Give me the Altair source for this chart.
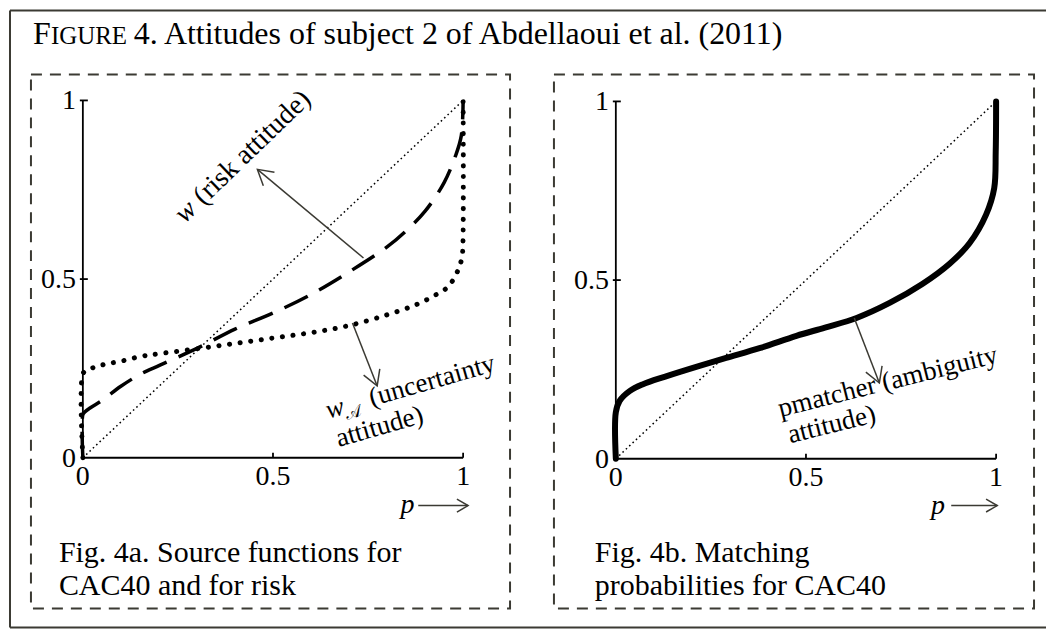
import math
import altair as alt
import pandas as pd

FONT = "Liberation Serif, DejaVu Serif, DejaVu Sans"
INK = "#000000"
GREY = "#3b3a33"
HEAD = "M -1 -0.58 L 0 0 L -1 0.58"

# ---------------- data ----------------
DIAG = [0, 1]
TICKS = [0, 0.5, 1]
TICK_LABELS = ["0", "0.5", "1"]

# Fig. 4a dashed: w (risk attitude)
RISK_P = [0, 0, 0.005, 0.02, 0.05, 0.10, 0.15, 0.20, 0.30, 0.40, 0.50, 0.60,
          0.70, 0.80, 0.85, 0.90, 0.95, 0.98, 0.995, 1.0]
RISK_W = [0, 0.12, 0.128, 0.14, 0.16, 0.20, 0.233, 0.258, 0.306, 0.36, 0.405,
          0.457, 0.52, 0.59, 0.635, 0.69, 0.77, 0.845, 0.90, 1.0]

# Fig. 4a dotted: w_A (uncertainty attitude)
UNC_P = [0, 0, 0.01, 0.03, 0.06, 0.10, 0.15, 0.20, 0.30, 0.40, 0.50, 0.60,
         0.70, 0.80, 0.88, 0.93, 0.96, 0.98, 0.99, 0.997, 0.9995, 1.0]
UNC_W = [0, 0.235, 0.245, 0.253, 0.262, 0.27, 0.283, 0.291, 0.305, 0.32,
         0.335, 0.35, 0.37, 0.40, 0.43, 0.457, 0.478, 0.51, 0.535, 0.56, 0.60, 1.0]

# Fig. 4b solid: pmatcher (ambiguity attitude)
MATCH_P = [0, 0, 0.01, 0.037, 0.07, 0.13, 0.22, 0.29, 0.38, 0.475, 0.55, 0.633,
           0.72, 0.806, 0.877, 0.93, 0.974, 0.995, 0.999, 1.0]
MATCH_W = [0, 0.13, 0.162, 0.19, 0.208, 0.23, 0.26, 0.282, 0.31, 0.344, 0.367,
           0.394, 0.436, 0.489, 0.545, 0.603, 0.684, 0.757, 0.86, 1.0]

TITLE_CAP = "F"
TITLE_SMALL = "IGURE"
TITLE_REST = "4. Attitudes of subject 2 of Abdellaoui et al. (2011)"
CAPTION_A = ["Fig. 4a. Source functions for", "CAC40 and for risk"]
CAPTION_B = ["Fig. 4b. Matching", "probabilities for CAC40"]

# ---------------- panel geometry (pixels) ----------------
LEFT = dict(W=480, H=535, x0=52, y0=384, ux=381, uy=358)
RIGHT = dict(W=481, H=535, x0=62, y0=385, ux=381, uy=358)

one = pd.DataFrame({"a": [0]})


def make_panel(g, curves, texts, arrows, p_label, caption, extra=()):
    xs = alt.Scale(domain=[-g["x0"] / g["ux"], (g["W"] - g["x0"]) / g["ux"]], nice=False, zero=False)
    ys = alt.Scale(domain=[(g["y0"] - g["H"]) / g["uy"], g["y0"] / g["uy"]], nice=False, zero=False)

    def X():
        return alt.X("p:Q", scale=xs, axis=None)

    def Y():
        return alt.Y("w:Q", scale=ys, axis=None)

    layers = []
    # diagonal
    layers.append(alt.Chart(pd.DataFrame({"p": DIAG, "w": DIAG})).mark_line(
        strokeDash=[1.6, 3.0], strokeWidth=1.5, color=INK).encode(x=X(), y=Y()))
    # curves
    for (P, W, style) in curves:
        df = pd.DataFrame({"p": P, "w": W, "i": list(range(len(P)))})
        layers.append(alt.Chart(df).mark_line(color=INK, interpolate="catmull-rom", **style)
                      .encode(x=X(), y=Y(), order="i:Q"))
    # axis lines
    ax = pd.DataFrame({"p": [0, 0], "w": [0, 0], "p2": [1, 0], "w2": [0, 1]})
    layers.append(alt.Chart(ax).mark_rule(color=INK, strokeWidth=1.8)
                  .encode(x=X(), y=Y(), x2="p2:Q", y2="w2:Q"))
    # ticks
    tk = [t for t in TICKS if t > 0]
    tdf = pd.DataFrame({
        "p": [-3 / g["ux"]] * len(tk) + tk,
        "w": tk + [0] * len(tk),
        "p2": [5 / g["ux"]] * len(tk) + tk,
        "w2": tk + [5 / g["uy"]] * len(tk),
    })
    layers.append(alt.Chart(tdf).mark_rule(color=INK, strokeWidth=1.8)
                  .encode(x=X(), y=Y(), x2="p2:Q", y2="w2:Q"))
    # tick labels
    ydf = pd.DataFrame({"p": [0] * 3, "w": TICKS, "lab": TICK_LABELS})
    layers.append(alt.Chart(ydf).mark_text(align="right", baseline="alphabetic", dx=-7, dy=9,
                                           fontSize=28, font=FONT, color=INK)
                  .encode(x=X(), y=Y(), text="lab:N"))
    xdf = pd.DataFrame({"p": TICKS, "w": [0] * 3, "lab": TICK_LABELS})
    layers.append(alt.Chart(xdf).mark_text(align="center", baseline="alphabetic", dy=27,
                                           fontSize=28, font=FONT, color=INK)
                  .encode(x=X(), y=Y(), text="lab:N"))
    # annotation texts
    for (p, w, s, ang, dx, dy, size, style) in texts:
        layers.append(alt.Chart(pd.DataFrame({"p": [p], "w": [w]})).mark_text(
            text=s, align="left", baseline="alphabetic", angle=ang, dx=dx, dy=dy,
            fontSize=size, fontStyle=style, font=FONT, color=INK).encode(x=X(), y=Y()))
    # arrows
    for (tail, tip, size, sw) in arrows:
        dxp = (tip[0] - tail[0]) * g["ux"]
        dyp = -(tip[1] - tail[1]) * g["uy"]
        ang = math.degrees(math.atan2(dyp, dxp)) % 360
        sdf = pd.DataFrame({"p": [tail[0]], "w": [tail[1]], "p2": [tip[0]], "w2": [tip[1]]})
        layers.append(alt.Chart(sdf).mark_rule(color=GREY, strokeWidth=sw)
                      .encode(x=X(), y=Y(), x2="p2:Q", y2="w2:Q"))
        hdf = pd.DataFrame({"p": [tip[0]], "w": [tip[1]]})
        layers.append(alt.Chart(hdf).mark_point(shape=HEAD, filled=False, size=size, angle=ang,
                                                strokeWidth=sw, color=GREY, opacity=1)
                      .encode(x=X(), y=Y()))
    # p label
    pp, pw = p_label
    layers.append(alt.Chart(pd.DataFrame({"p": [pp], "w": [pw]})).mark_text(
        text="p", align="left", baseline="alphabetic", fontSize=28, fontStyle="italic",
        font=FONT, color=INK).encode(x=X(), y=Y()))
    # caption (one two-line text)
    (cx, cy, lines) = caption
    layers.append(alt.Chart(one).mark_text(
        text=lines, lineHeight=34, align="left", baseline="alphabetic", fontSize=30,
        font=FONT, color=INK).encode(x=alt.value(cx), y=alt.value(cy)))
    layers.extend(extra)
    return alt.layer(*layers).properties(width=g["W"], height=g["H"])


# ---- decorations living in the left panel (title + outer frame) ----
title_layers = [
    alt.Chart(one).mark_text(text=TITLE_CAP, align="left", baseline="alphabetic", fontSize=32,
                             font=FONT, color=INK).encode(x=alt.value(2), y=alt.value(-31)),
    alt.Chart(one).mark_text(text=TITLE_SMALL, align="left", baseline="alphabetic", fontSize=25,
                             font=FONT, color=INK).encode(x=alt.value(20), y=alt.value(-31)),
    alt.Chart(one).mark_text(text=TITLE_REST, align="left", baseline="alphabetic", fontSize=32,
                             font=FONT, color=INK).encode(x=alt.value(103), y=alt.value(-31)),
]
frame = pd.DataFrame({"x": [-21, -21, -21], "x2": [1017, -21, 1017],
                      "y": [-64, -64, 554], "y2": [-64, 554, 554]})
frame_layer = alt.Chart(frame).mark_rule(color=GREY, strokeWidth=2).encode(
    x=alt.X("x:Q", scale=None), x2="x2:Q", y=alt.Y("y:Q", scale=None), y2="y2:Q")

left = make_panel(
    LEFT,
    curves=[
        (RISK_P, RISK_W, dict(strokeWidth=3.5, strokeDash=[26, 13])),
        (UNC_P, UNC_W, dict(strokeWidth=5, strokeDash=[0.1, 10.6], strokeCap="round")),
    ],
    texts=[
        (0.268, 0.654, "w", 316, 0, 0, 28, "italic"),
        (0.268, 0.654, "(risk attitude)", 316, 26, 0, 28, "normal"),
        (0.646, 0.109, "w", 344, 0, 0, 27, "italic"),
        (0.646, 0.109, "\U0001D49C", 344, 18, 6, 17, "normal"),
        (0.646, 0.109, "(uncertainty", 344, 45, 0, 27, "normal"),
        (0.646, 0.109, "attitude)", 344, 2, 30, 27, "normal"),
    ],
    arrows=[
        ((0.738, 0.559), (0.459, 0.807), 900, 1.5),
        ((0.709, 0.377), (0.774, 0.201), 900, 1.5),
        ((0.882, -0.134), (1.013, -0.134), 500, 1.5),
    ],
    p_label=(0.835, -0.154),
    caption=(28, 488, CAPTION_A),
    extra=title_layers + [frame_layer],
)

right = make_panel(
    RIGHT,
    curves=[
        (MATCH_P, MATCH_W, dict(strokeWidth=6, strokeCap="round", strokeJoin="round")),
    ],
    texts=[
        (0.433, 0.117, "pmatcher (ambiguity", 346, 0, 0, 27, "normal"),
        (0.433, 0.117, "attitude)", 346, 3, 28, 27, "normal"),
    ],
    arrows=[
        ((0.627, 0.394), (0.693, 0.212), 900, 1.5),
        ((0.882, -0.131), (1.003, -0.131), 500, 1.5),
    ],
    p_label=(0.829, -0.154),
    caption=(41, 488, CAPTION_B),
)

chart = alt.hconcat(left, right, spacing=44, bounds="flush").properties(
    padding=0, background="white"
).configure_view(stroke=GREY, strokeDash=[11, 8], strokeWidth=2)

chart.save("out.html", embed_options={"renderer": "svg", "actions": False})
